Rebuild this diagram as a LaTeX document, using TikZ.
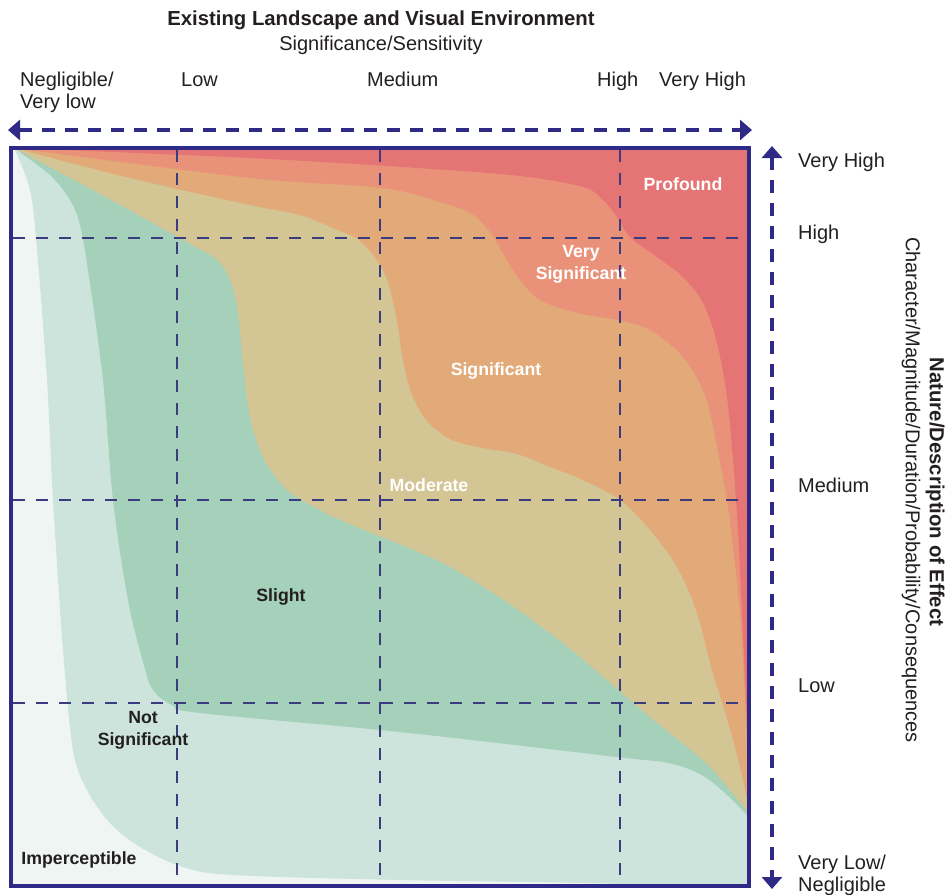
\documentclass[tikz,border=0pt]{standalone}
\usepackage{fontspec}
\setmainfont{Liberation Sans}
\usetikzlibrary{arrows.meta}
\definecolor{navy}{HTML}{2E2A86}
\definecolor{gridc}{HTML}{3B3B80}
\definecolor{txt}{HTML}{231F20}
\definecolor{cImp}{HTML}{EEF5F2}
\definecolor{cNot}{HTML}{CDE4DC}
\definecolor{cSli}{HTML}{A5D0BA}
\definecolor{cMod}{HTML}{D4C595}
\definecolor{cSig}{HTML}{E1AA78}
\definecolor{cVsig}{HTML}{EA9279}
\definecolor{cPro}{HTML}{E57574}
\begin{document}
\begin{tikzpicture}[x=1pt,y=-1pt,
  axlab/.style={font=\fontsize{20}{24}\selectfont, text=txt, inner sep=0pt},
  ttl/.style={font=\bfseries\fontsize{20.3}{24}\selectfont, text=txt, inner sep=0pt},
  inw/.style={font=\bfseries\fontsize{17.7}{22}\selectfont, text=white, align=center, inner sep=0pt},
  ind/.style={font=\bfseries\fontsize{17.7}{22}\selectfont, text=txt, align=center, inner sep=0pt},
  gridline/.style={gridc, line width=2pt, dash pattern=on 12pt off 11pt},
  axarrow/.style={navy, line width=4.5pt, dash pattern=on 13pt off 10pt, {Triangle[length=12pt,width=20pt]}-{Triangle[length=12pt,width=20pt]}}
]
\useasboundingbox (0,0) rectangle (946,895);
\fill[white] (0,0) rectangle (946,895);

\begin{scope}
\clip (11,148) rectangle (749,886);
\fill[cImp] (0,140) rectangle (760,895);
% Not significant
\fill[cNot] plot[smooth,tension=0.55] coordinates {(14,148) (30,190) (37,250) (47,380) (53,500) (63,650) (73,750) (87,790) (110,823) (140,847) (183,867) (233,875) (400,880) (620,884) (665,892)} -- (760,895) -- (760,140) -- (0,140) -- cycle;
% Slight
\fill[cSli] plot[smooth,tension=0.55] coordinates {(14,148) (50,175) (70,200) (80,225) (88,270) (103,380) (113,500) (128,600) (143,662) (153,690) (172,705) (200,713) (400,732) (617,757) (668,763) (700,774) (725,793) (750,818)} -- (760,818) -- (760,140) -- (0,140) -- cycle;
% Moderate
\fill[cMod] plot[smooth,tension=0.55] coordinates {(14,148) (100,194) (183,240) (220,263) (236,300) (243,363) (250,417) (263,457) (287,490) (320,510) (347,523) (450,567) (550,633) (650,717) (710,767) (750,816)} -- (760,816) -- (760,140) -- (0,140) -- cycle;
% Significant
\fill[cSig] plot[smooth,tension=0.55] coordinates {(14,148) (130,178) (250,205) (300,215) (333,228) (360,241) (383,270) (395,310) (403,360) (412,395) (428,422) (452,440) (483,448) (517,454) (550,467) (583,480) (620,500) (650,530) (677,567) (697,613) (712,670) (728,722) (740,767) (750,814)} -- (760,814) -- (760,140) -- (0,140) -- cycle;
% Very significant
\fill[cVsig] plot[smooth,tension=0.55] coordinates {(14,148) (250,178) (383,188) (443,203) (472,214) (490,232) (505,257) (520,280) (540,300) (577,313) (617,320) (650,330) (683,357) (705,395) (717,447) (727,500) (733,547) (740,613) (745,700) (750,812)} -- (760,812) -- (760,140) -- (0,140) -- cycle;
% Profound
\fill[cPro] plot[smooth,tension=0.55] coordinates {(14,148) (250,158) (417,168) (520,176) (583,187) (603,200) (617,217) (630,237) (657,257) (683,277) (703,303) (717,343) (727,397) (733,460) (738,530) (742,613) (746,700) (750,810)} -- (760,810) -- (760,140) -- (0,140) -- cycle;
\end{scope}

% grid
\draw[gridline] (177,150) -- (177,886);
\draw[gridline] (380,150) -- (380,886);
\draw[gridline] (620,150) -- (620,886);
\draw[gridline] (13,238) -- (749,238);
\draw[gridline] (13,500) -- (749,500);
\draw[gridline] (13,703) -- (749,703);

% frame
\draw[navy, line width=4.5pt] (11,148) rectangle (749,886);

% axis arrows
\coordinate (hl) at (8,130);
\coordinate (hr) at (752,130);
\coordinate (vt) at (772,146);
\coordinate (vb) at (772,889);
\draw[axarrow] (hl) -- (hr);
\draw[axarrow] (vt) -- (vb);

% titles
\node[ttl, anchor=base] (title) at (381,25) {Existing Landscape and Visual Environment};
\node[axlab, anchor=base] (subtitle) at (381,50) {Significance/Sensitivity};

% top labels
\node[axlab, anchor=base west] (tneg) at (20,86) {Negligible/};
\node[axlab, anchor=base west] (tneg2) at (20,108) {Very low};
\node[axlab, anchor=base west] (tlow) at (181,86) {Low};
\node[axlab, anchor=base west] (tmed) at (367,86) {Medium};
\node[axlab, anchor=base west] (thigh) at (597,86) {High};
\node[axlab, anchor=base west] (tvh) at (659,86) {Very High};

% right labels
\node[axlab, anchor=base west] (rvh) at (798,167) {Very High};
\node[axlab, anchor=base west] (rhigh) at (798,239) {High};
\node[axlab, anchor=base west] (rmed) at (798,492) {Medium};
\node[axlab, anchor=base west] (rlow) at (798,692) {Low};
\node[axlab, anchor=base west] (rvl) at (798,869) {Very Low/};
\node[axlab, anchor=base west] (rneg) at (798,891) {Negligible};

% rotated
\node[ttl, rotate=-90] (nature) at (935,492) {Nature/Description of Effect};
\node[axlab, rotate=-90] (charac) at (911,490) {Character/Magnitude/Duration/Probability/Consequences};

% region labels
\node[inw] (lpro) at (683,184) {Profound};
\node[inw] (lvsig) at (581,264) {Very\\Significant};
\node[inw] (lsig) at (496,371) {Significant};
\node[inw] (lmod) at (429,485) {Moderate};
\node[ind] (lsli) at (281,597) {Slight};
\node[ind] (lnot) at (143,730) {Not\\Significant};
\node[ind] (limp) at (79,860) {Imperceptible};
\end{tikzpicture}
\end{document}
